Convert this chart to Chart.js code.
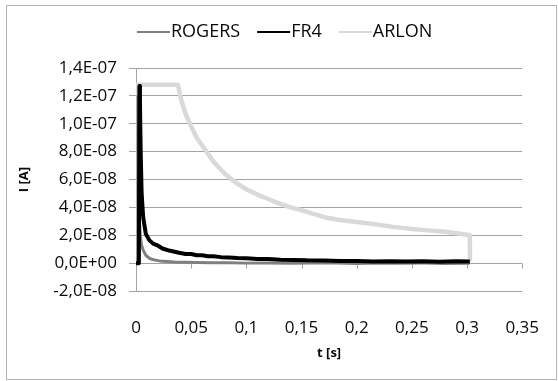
<!DOCTYPE html>
<html>
<head>
<meta charset="utf-8">
<script src="https://cdn.jsdelivr.net/npm/chart.js@4.4.1/dist/chart.umd.min.js"></script>
<style>
  html, body { margin: 0; padding: 0; background: #fff; }
</style>
</head>
<body>
<canvas id="chart" width="558" height="381"></canvas>
<script>
// values (t in s, I in A)
const rogersT = [0, 0.0012, 0.0018, 0.0024, 0.003, 0.004, 0.005, 0.0065, 0.009, 0.0125, 0.016, 0.0214, 0.028, 0.035, 0.045, 0.055, 0.07, 0.085, 0.1, 0.12, 0.14, 0.16, 0.18, 0.2, 0.22, 0.24, 0.26, 0.28, 0.3025];
const rogersI = [0, 0, 1.2e-7, 5.5e-8, 3.2e-8, 1.9e-8, 1.3e-8, 9.3e-9, 5.5e-9, 3.3e-9, 2.4e-9, 1.6e-9, 1.2e-9, 0.8e-9, 0.6e-9, 0.4e-9, 0.2e-9, 0.3e-9, 0, 0.1e-9, -0.1e-9, 0.1e-9, 0, -0.2e-9, 0.1e-9, -0.1e-9, 0, -0.2e-9, -0.1e-9];

const fr4T = [0, 0.0026, 0.0031, 0.0036, 0.0042, 0.0051, 0.0065, 0.0089, 0.012, 0.0155, 0.02, 0.024, 0.03, 0.035, 0.039, 0.045, 0.05, 0.055, 0.06, 0.065, 0.07, 0.077, 0.084, 0.092, 0.1, 0.11, 0.12, 0.131, 0.143, 0.155, 0.17, 0.185, 0.2, 0.215, 0.23, 0.245, 0.26, 0.275, 0.29, 0.3025];
const fr4I = [0, 0, 1.27e-7, 1.15e-7, 8.2e-8, 5.0e-8, 3.3e-8, 2.1e-8, 1.65e-8, 1.4e-8, 1.25e-8, 1.05e-8, 9.0e-9, 8.2e-9, 7.4e-9, 6.5e-9, 6.6e-9, 5.7e-9, 5.6e-9, 4.9e-9, 5.0e-9, 4.3e-9, 4.1e-9, 3.6e-9, 3.5e-9, 2.9e-9, 3.0e-9, 2.4e-9, 2.3e-9, 2.0e-9, 1.9e-9, 1.5e-9, 1.6e-9, 1.2e-9, 1.4e-9, 1.1e-9, 1.3e-9, 1.0e-9, 1.3e-9, 1.1e-9];

const arlonT = [0, 0.0005, 0.038, 0.041, 0.045, 0.05, 0.055, 0.063, 0.07, 0.08, 0.09, 0.1, 0.111, 0.12, 0.129, 0.14, 0.15, 0.16, 0.173, 0.185, 0.2, 0.215, 0.233, 0.25, 0.265, 0.28, 0.292, 0.3025, 0.3027];
const arlonI = [0, 1.28e-7, 1.28e-7, 1.17e-7, 1.07e-7, 9.8e-8, 9.0e-8, 8.1e-8, 7.3e-8, 6.45e-8, 5.8e-8, 5.3e-8, 4.88e-8, 4.6e-8, 4.3e-8, 4.0e-8, 3.8e-8, 3.55e-8, 3.25e-8, 3.1e-8, 2.95e-8, 2.8e-8, 2.6e-8, 2.45e-8, 2.35e-8, 2.25e-8, 2.13e-8, 2.0e-8, 1e-9];

const seriesNames = ["ROGERS", "FR4", "ARLON"];
const xRange = [0, 0.35, 0.05];
const yRange = [-2e-8, 1.4e-7, 2e-8];

const gridColor = "#a3a3a3";
const textColor = "#0a0a0a";
const fontFamily = '"Open Sans", "Noto Sans", sans-serif';

function points(ts, vals) {
  return ts.map((t, i) => ({ x: t, y: vals[i] }));
}

// "1,4E-07" style labels, like the spreadsheet did
function sciLabel(v) {
  if (Math.abs(v) < 1e-15) v = 0;
  const [m, e] = v.toExponential(1).split("e");
  const exp = parseInt(e, 10);
  const sign = exp < 0 ? "-" : "+";
  return m.replace(".", ",") + "E" + sign + String(Math.abs(exp)).padStart(2, "0");
}

function decLabel(v) {
  return String(Number(v.toFixed(2))).replace(".", ",");
}

const frame = {
  id: "frame",
  beforeDraw(chart) {
    const ctx = chart.ctx;
    ctx.save();
    ctx.fillStyle = "#fff";
    ctx.fillRect(0, 0, chart.width, chart.height);
    ctx.strokeStyle = "#b5b5b5";
    ctx.lineWidth = 1;
    ctx.strokeRect(6.5, 5.5, 550, 374);
    ctx.restore();
  },
};

// tick marks hang below the zero line, where the x axis crosses
const zeroAxisTicks = {
  id: "zeroAxisTicks",
  beforeDatasetsDraw(chart) {
    const { ctx, scales } = chart;
    const y0 = Math.round(scales.y.getPixelForValue(0)) + 0.5;
    ctx.save();
    ctx.strokeStyle = gridColor;
    ctx.lineWidth = 1;
    ctx.beginPath();
    scales.x.ticks.forEach((t) => {
      const px = Math.round(scales.x.getPixelForValue(t.value)) + 0.5;
      ctx.moveTo(px, y0);
      ctx.lineTo(px, y0 + 5);
    });
    ctx.stroke();
    ctx.restore();
  },
};

const legendRow = {
  id: "legendRow",
  afterDraw(chart) {
    const ctx = chart.ctx;
    const y = 32;
    let x = 137;
    ctx.save();
    ctx.font = "18px " + fontFamily;
    ctx.textBaseline = "middle";
    chart.data.datasets.forEach((ds) => {
      ctx.strokeStyle = ds.borderColor;
      ctx.lineWidth = 2;
      ctx.beginPath();
      ctx.moveTo(x, y);
      ctx.lineTo(x + 33, y);
      ctx.stroke();
      x += 34;
      ctx.fillStyle = textColor;
      ctx.fillText(ds.label, x, y);
      x += ctx.measureText(ds.label).width + 17;
    });
    ctx.restore();
  },
};

const tickFont = { family: fontFamily, size: 17 };
const titleFont = { family: fontFamily, size: 13, weight: "bold" };

new Chart(document.getElementById("chart"), {
  type: "scatter",
  data: {
    datasets: [
      { label: seriesNames[0], data: points(rogersT, rogersI), borderColor: "#808080", borderWidth: 3, order: 1 },
      { label: seriesNames[1], data: points(fr4T, fr4I), borderColor: "#000000", borderWidth: 4, order: 0 },
      { label: seriesNames[2], data: points(arlonT, arlonI), borderColor: "#d9d9d9", borderWidth: 4.5, order: 2 },
    ].map((d) => ({ ...d, showLine: true, pointRadius: 0, borderJoinStyle: "round", tension: 0 })),
  },
  options: {
    responsive: false,
    animation: false,
    layout: { padding: { left: 12, right: 30, top: 68, bottom: 16 } },
    plugins: { legend: { display: false }, tooltip: { enabled: false } },
    scales: {
      x: {
        type: "linear",
        min: xRange[0],
        max: xRange[1],
        ticks: { stepSize: xRange[2], padding: 19, color: textColor, font: tickFont, callback: decLabel },
        grid: { display: false },
        border: { display: false },
        title: { display: true, text: "t [s]", color: textColor, font: titleFont, padding: { top: 14, bottom: 4 } },
        afterFit(s) { s.height = 74; },
      },
      y: {
        min: yRange[0],
        max: yRange[1],
        ticks: { stepSize: yRange[2], padding: 12, color: textColor, font: tickFont, callback: sciLabel },
        grid: { color: gridColor, tickLength: 7 },
        border: { display: true, color: gridColor },
        title: { display: true, text: "I [A]", color: textColor, font: titleFont, padding: 4 },
        afterFit(s) { s.width = 124; },
      },
    },
  },
  plugins: [frame, zeroAxisTicks, legendRow],
});
</script>
</body>
</html>
